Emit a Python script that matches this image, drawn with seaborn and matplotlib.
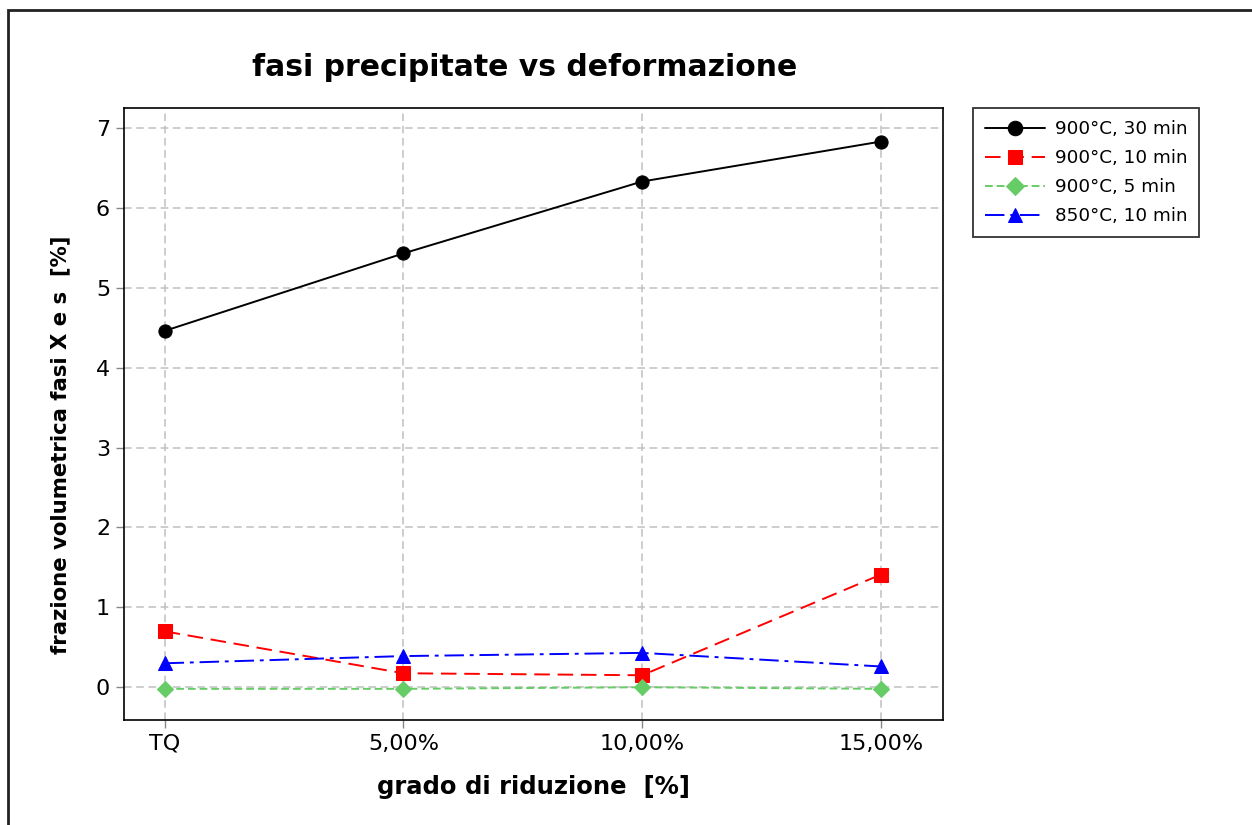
import matplotlib
matplotlib.use("Agg")
import matplotlib.pyplot as plt
import seaborn as sns
import pandas as pd
from matplotlib.patches import Rectangle

# Reduction grades (categorical x axis)
categories = ["TQ", "5,00%", "10,00%", "15,00%"]

# Volume fraction of precipitated phases [%]
s_900_30 = [4.46, 5.43, 6.33, 6.83]
s_900_10 = [0.70, 0.175, 0.15, 1.41]
s_900_5 = [-0.02, -0.02, 0.0, -0.02]
s_850_10 = [0.30, 0.39, 0.43, 0.26]

series_labels = ["900°C, 30 min", "900°C, 10 min", "900°C, 5 min", "850°C, 10 min"]

sns.set_theme(style="white")
plt.rcParams["font.family"] = ["DejaVu Sans"]
plt.rcParams["text.color"] = "black"
plt.rcParams["axes.labelcolor"] = "black"

fig = plt.figure(figsize=(12.52, 8.25), dpi=100)
ax = fig.add_axes([124 / 1252, 1 - 720 / 825, (943 - 124) / 1252, (720 - 108) / 825])

styles = [
    dict(color="black", marker="o", linestyle="-"),
    dict(color="red", marker="s", linestyle=(0, (8, 4))),
    dict(color="#66cc66", marker="D", linestyle=(0, (4, 2))),
    dict(color="blue", marker="^", linestyle=(0, (10, 3, 2, 3))),
]
values = [s_900_30, s_900_10, s_900_5, s_850_10]

for vals, lab, st in zip(values, series_labels, styles):
    df = pd.DataFrame({"x": range(len(categories)), "y": vals})
    ms = 8.5 if st["marker"] == "D" else 9.5
    sns.lineplot(data=df, x="x", y="y", ax=ax, label=lab, color=st["color"],
                 marker=st["marker"], linestyle=st["linestyle"], linewidth=1.4,
                 markersize=ms, markeredgecolor=st["color"], zorder=3)

ax.set_xlim(-0.17, 3.26)
ax.set_ylim(-0.41, 7.25)
ax.set_xticks(range(len(categories)))
ax.set_xticklabels(categories)
ax.set_yticks(range(0, 8))

ax.grid(True, color="#c0c0c0", linestyle=(0, (5, 3)), linewidth=1.1)
ax.set_axisbelow(True)
for sp in ax.spines.values():
    sp.set_color("black")
    sp.set_linewidth(1.2)

ax.tick_params(axis="both", which="both", direction="out", length=6, width=1,
               color="#888888", labelsize=16, labelcolor="black", pad=4,
               left=True, bottom=True)

ax.set_xlabel("grado di riduzione  [%]", fontsize=17.5, fontweight="bold")
ax.xaxis.set_label_coords(0.5, -(775 - 720) / (720 - 108))
ax.set_ylabel("frazione volumetrica fasi X e s  [%]", fontsize=15.3, fontweight="bold")
ax.yaxis.set_label_coords(-(124 - 70) / (943 - 124), (720 - 445) / (720 - 108))

fig.text(525 / 1252, 1 - 68 / 825, "fasi precipitate vs deformazione", ha="center",
         va="center", fontsize=21.5, fontweight="bold", color="black")

leg = ax.legend(loc="upper left", bbox_to_anchor=(973 / 1252, 1 - 108 / 825),
                bbox_transform=fig.transFigure, frameon=True, fancybox=False,
                fontsize=13.2, handlelength=3.3, handletextpad=0.5, borderpad=0.65,
                labelspacing=0.6, borderaxespad=0, edgecolor="black",
                markerscale=1.1)
leg.get_frame().set_linewidth(1.3)

# Outer frame of the figure
fig.patches.append(Rectangle((8 / 1252, -0.01), 1.02, 1 - 10 / 825 + 0.01,
                             transform=fig.transFigure, fill=False,
                             edgecolor="#222222", linewidth=2))

fig.savefig("out.png", dpi=100)
